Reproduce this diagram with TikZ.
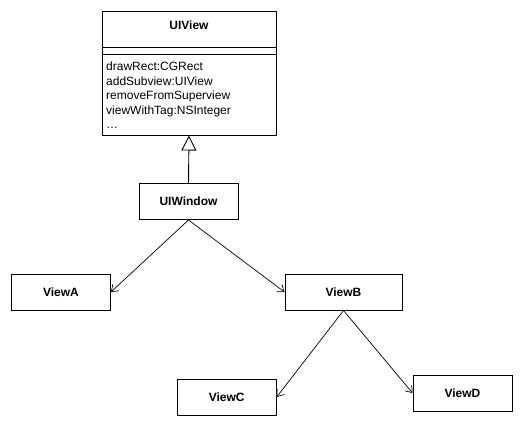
\documentclass[tikz,border=0pt]{standalone}
\usepackage{fontspec}
\setmainfont{Liberation Sans}
\usetikzlibrary{arrows.meta}
\begin{document}
\begin{tikzpicture}[x=1pt,y=-1pt,
  box/.style={draw,line width=1pt,minimum width=99pt,minimum height=36pt,inner sep=0pt,font=\fontsize{12}{14.4}\selectfont\bfseries},
  edge/.style={line width=0.7pt,-{Straight Barb[length=6pt,width=9pt]}},
  inherit/.style={line width=0.9pt,-{Triangle[open,length=15pt,width=15pt]}}]
\useasboundingbox (0,0) rectangle (523,426);
% UIView class box
\node[draw,line width=1pt,minimum width=174pt,minimum height=124pt,inner sep=0pt] (uiview) at (189,73) {};
\node[font=\fontsize{12}{14.4}\selectfont\bfseries,inner sep=0pt] (title) at (189,25) {UIView};
\draw[line width=1pt] (uiview.west |- 0,47.7) -- (uiview.east |- 0,47.7);
\draw[line width=1pt] (uiview.west |- 0,54) -- (uiview.east |- 0,54);
\node[anchor=north west,align=left,inner sep=0pt,font=\fontsize{12}{14.4}\selectfont] (methods) at (106,62)
  {drawRect:CGRect\\addSubview:UIView\\removeFromSuperview\\viewWithTag:NSInteger\\\dots};
% other boxes
\node[box] (win) at (188.5,201.5) {UIWindow};
\node[box] (a) at (61,292) {ViewA};
\node[box,minimum width=117pt] (b) at (343.5,292) {ViewB};
\node[box] (c) at (226.7,397) {ViewC};
\node[box] (d) at (462.5,393) {ViewD};
% connectors
\draw[inherit] (win.north) -- (uiview.south);
\draw[edge] (win.south) -- (a.east);
\draw[edge] (win.south) -- (b.west);
\draw[edge] (b.south) -- (c.east);
\draw[edge] (b.south) -- (d.west);
\end{tikzpicture}
\end{document}
